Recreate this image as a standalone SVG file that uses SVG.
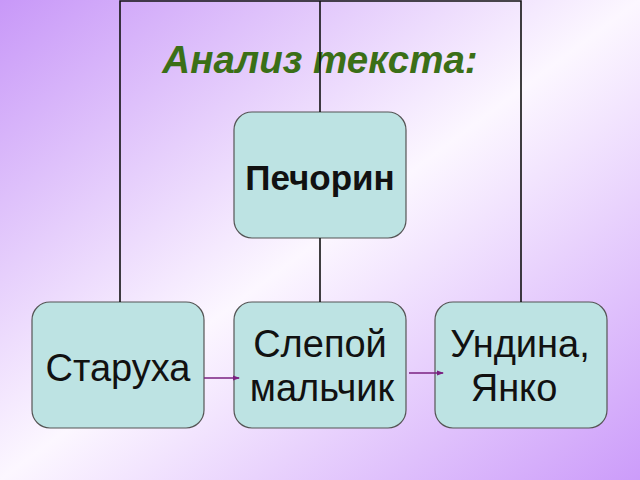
<svg xmlns="http://www.w3.org/2000/svg" width="640" height="480" viewBox="0 0 640 480">
<defs>
<linearGradient id="bg" x1="0" y1="0" x2="1" y2="1">
<stop offset="0" stop-color="#c898f8"/>
<stop offset="0.5" stop-color="#fcf7ff"/>
<stop offset="1" stop-color="#cc9cfa"/>
</linearGradient>
<marker id="ah" markerWidth="7" markerHeight="6" refX="6" refY="3" orient="auto" markerUnits="userSpaceOnUse">
<path d="M0,0.5 L7,3 L0,5.5 z" fill="#7a2080"/>
</marker>
<style>
.box{fill:#bde3e3;stroke:#555;stroke-width:1.2}
.lbl{font-family:"Liberation Sans",Arial,sans-serif;font-size:38px;fill:#111;text-anchor:middle}
.tree{stroke:#111;stroke-width:1.6;fill:none}
.arr{stroke:#7a2080;stroke-width:1.3;fill:none}
</style>
</defs>
<rect x="0" y="0" width="640" height="480" fill="url(#bg)"/>
<text id="title" x="320" y="73" font-family="'Liberation Sans',Arial,sans-serif" font-size="38.5" font-weight="bold" font-style="italic" fill="#3b6f17" text-anchor="middle">Анализ текста:</text>
<g id="pechorin">
<rect class="box" x="234" y="112" width="172" height="126" rx="18"/>
<text class="lbl" x="320" y="190" style="font-size:35px;font-weight:bold">Печорин</text>
</g>
<g id="starukha">
<rect class="box" x="32" y="302" width="172" height="126" rx="18"/>
<text class="lbl" x="118" y="381">Старуха</text>
</g>
<g id="slepoy">
<rect class="box" x="234" y="302" width="172" height="126" rx="18"/>
<text class="lbl" x="320" y="357">Слепой</text>
<text class="lbl" x="322" y="401">мальчик</text>
</g>
<g id="undina">
<rect class="box" x="435" y="302" width="172" height="126" rx="18"/>
<text class="lbl" x="520" y="357">Ундина,</text>
<text class="lbl" x="514" y="401">Янко</text>
</g>
<g id="connectors">
<path class="tree" d="M120,302 V1 H521 V302"/>
<path class="tree" d="M320,1 V112"/>
<path class="tree" d="M320,238 V302"/>
<path class="arr" d="M204,378 H239" marker-end="url(#ah)"/>
<path class="arr" d="M409,373 H443" marker-end="url(#ah)"/>
</g>
</svg>
